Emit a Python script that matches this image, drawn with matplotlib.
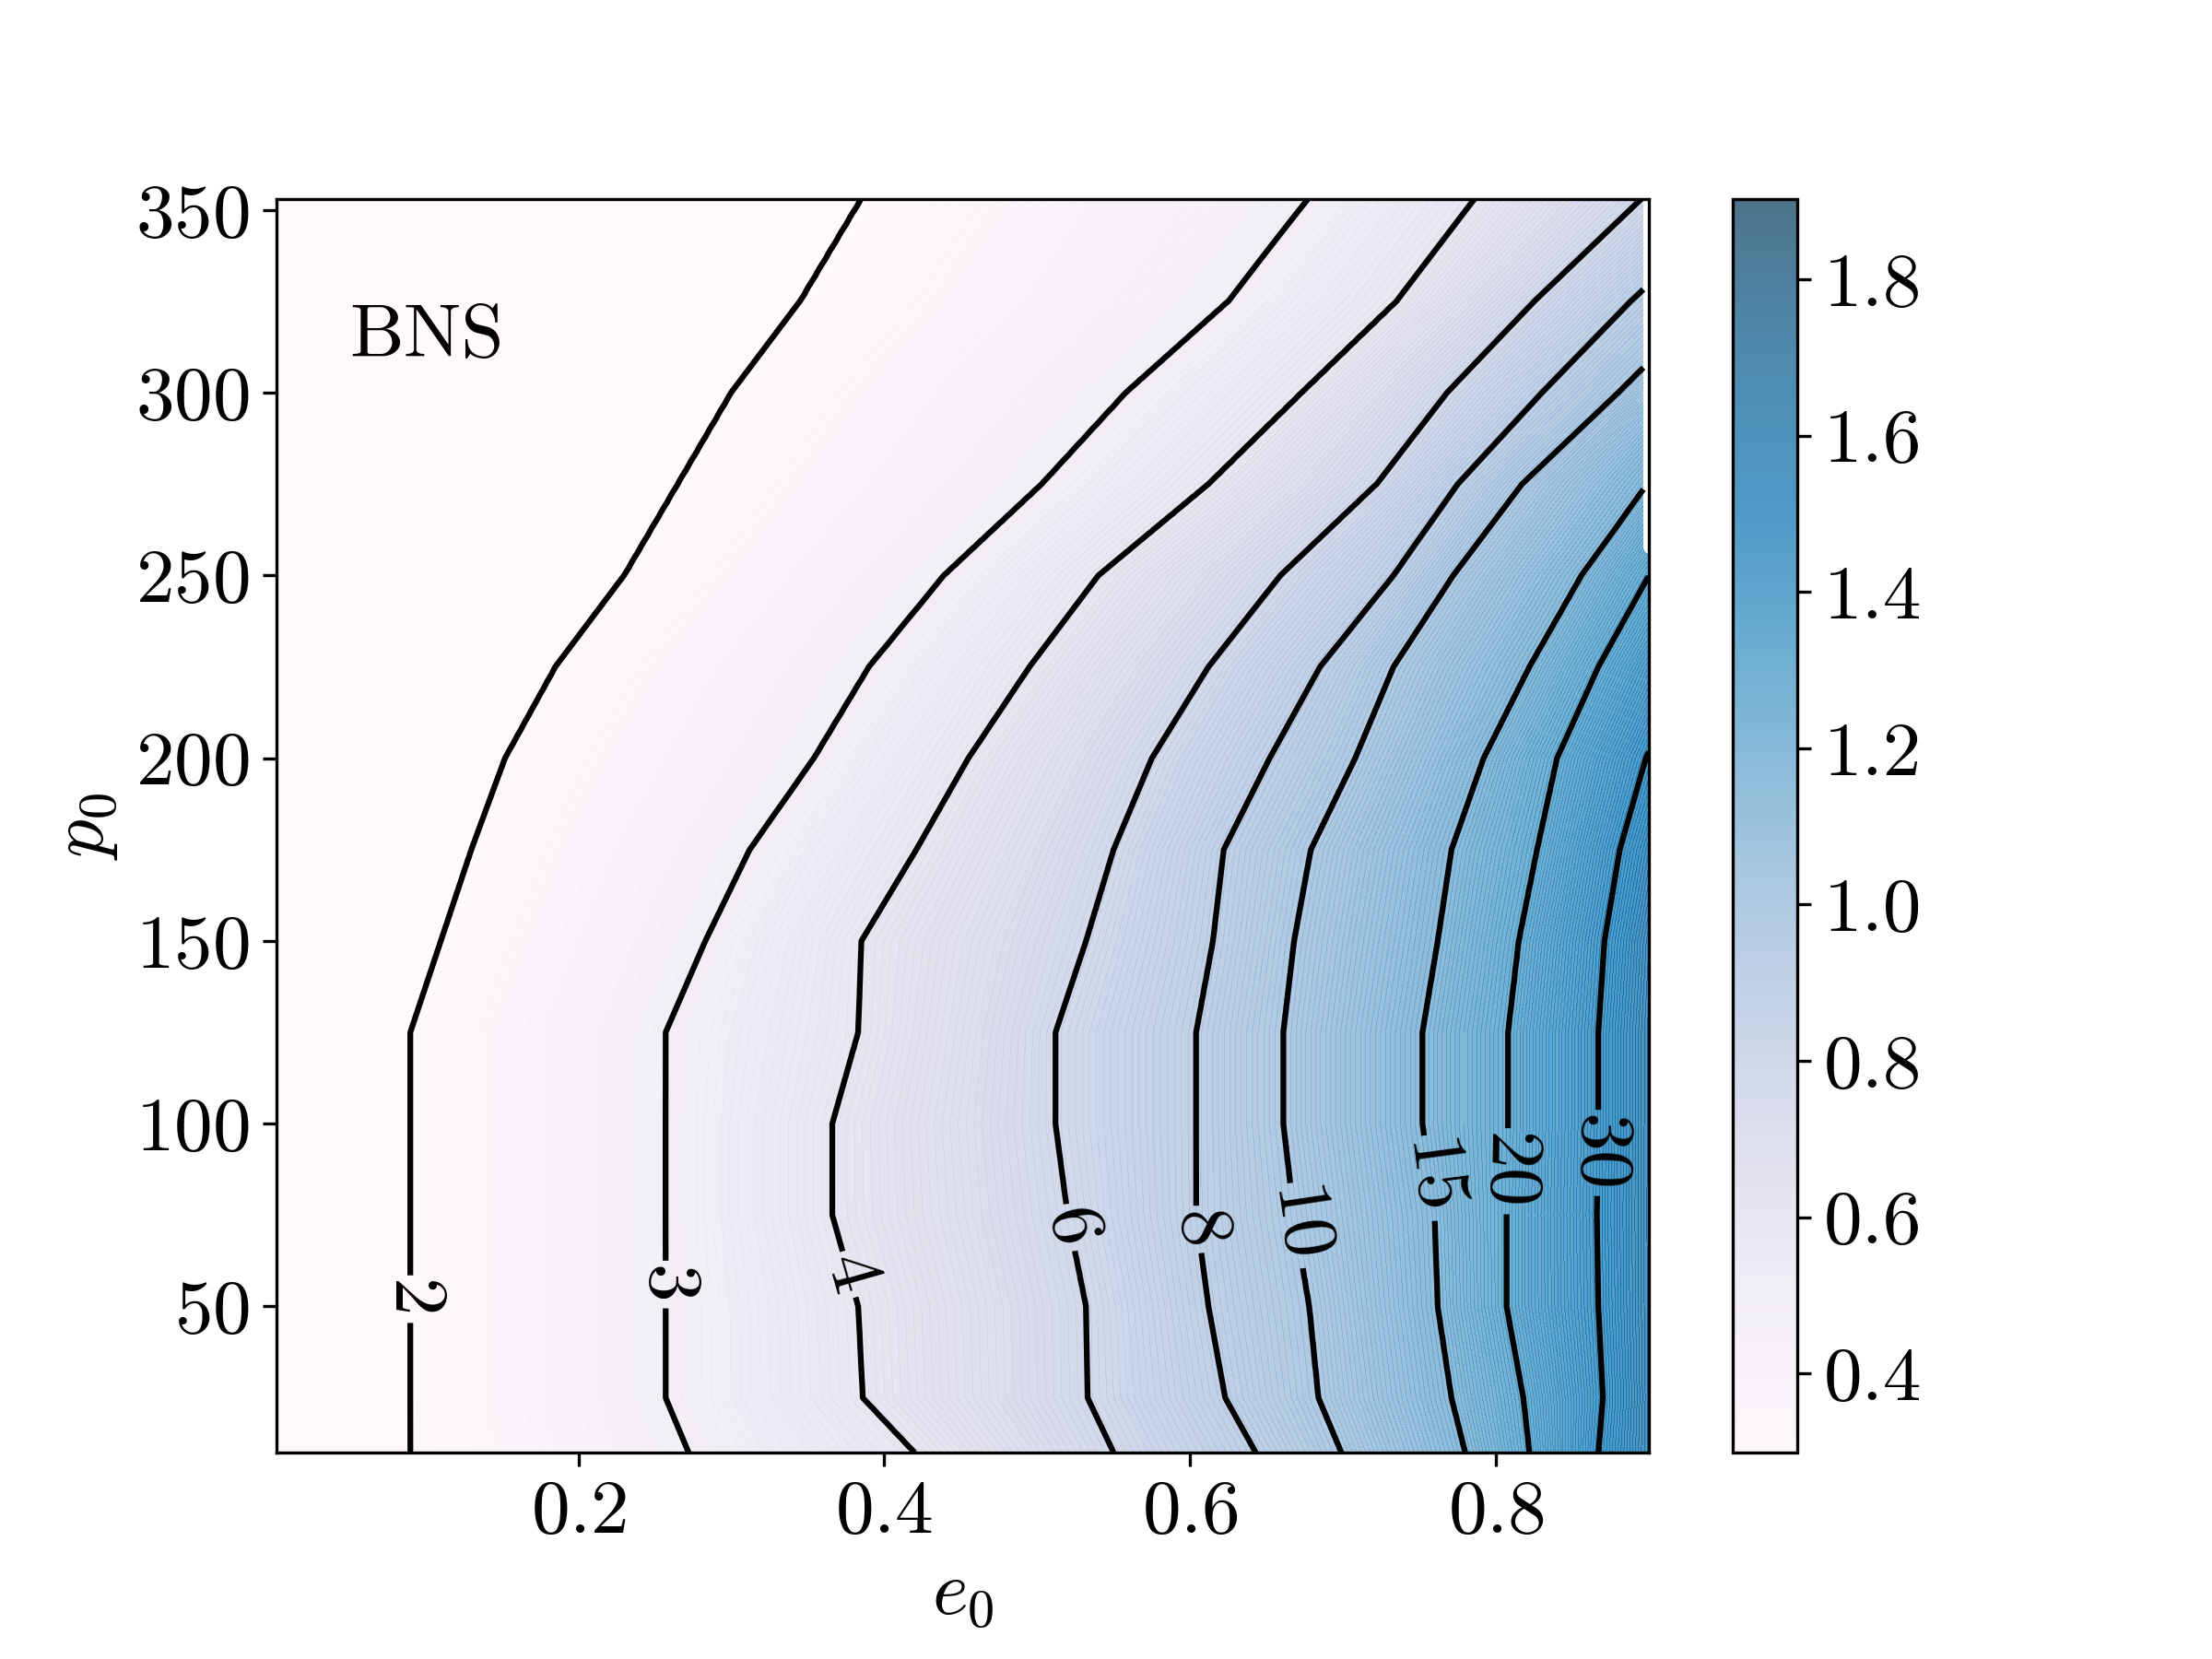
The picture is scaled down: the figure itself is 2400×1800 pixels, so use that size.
import numpy as np
import matplotlib
matplotlib.use("Agg")
import matplotlib.pyplot as plt

plt.rcParams['font.family'] = 'serif'
plt.rcParams['font.serif'] = ['cmr10']
plt.rcParams['mathtext.fontset'] = 'cm'
plt.rcParams['axes.formatter.use_mathtext'] = True
plt.rcParams['font.size'] = 20

# rows of the data table (p0) and e0 range
p0_rows = [10, 25, 50, 75, 100, 125, 150, 175, 200, 225, 250, 275, 300, 325, 353]
e0_min, e0_max = 0.0025, 0.9

# e0 position where each contour level is crossed, per p0 row
levels = [2, 3, 4, 6, 8, 10, 15, 20, 30]
cross_2 = [0.090, 0.090, 0.090, 0.090, 0.090, 0.090, 0.110, 0.130, 0.152, 0.185, 0.230, 0.265, 0.300, 0.345, 0.385]
cross_3 = [0.272, 0.257, 0.257, 0.257, 0.257, 0.257, 0.283, 0.312, 0.354, 0.390, 0.439, 0.503, 0.558, 0.625, 0.677]
cross_4 = [0.420, 0.386, 0.383, 0.366, 0.366, 0.383, 0.385, 0.421, 0.455, 0.495, 0.540, 0.612, 0.673, 0.735, 0.786]
cross_6 = [0.550, 0.533, 0.532, 0.520, 0.512, 0.512, 0.532, 0.550, 0.575, 0.612, 0.659, 0.722, 0.768, 0.825, 0.895]
cross_8 = [0.643, 0.623, 0.612, 0.604, 0.604, 0.604, 0.615, 0.622, 0.652, 0.685, 0.733, 0.775, 0.830, 0.888, 0.960]
cross_10 = [0.699, 0.684, 0.678, 0.668, 0.661, 0.661, 0.668, 0.679, 0.708, 0.733, 0.772, 0.817, 0.880, 0.940, 0.990]
cross_15 = [0.780, 0.771, 0.762, 0.760, 0.752, 0.752, 0.762, 0.771, 0.792, 0.822, 0.856, 0.899, 0.945, 0.985, 1.020]
cross_20 = [0.822, 0.818, 0.807, 0.807, 0.808, 0.808, 0.815, 0.827, 0.840, 0.867, 0.900, 0.940, 0.980, 1.020, 1.060]
cross_30 = [0.867, 0.870, 0.867, 0.866, 0.867, 0.867, 0.871, 0.881, 0.898, 0.925, 0.960, 1.000, 1.040, 1.080, 1.120]
cross_40 = [0.905, 0.905, 0.905, 0.905, 0.905, 0.905, 0.908, 0.920, 0.940, 0.970, 1.000, 1.040, 1.080, 1.120, 1.160]
value_at_e0_zero = 1.6

# region at the right edge without data (upper part)
gap_e0, gap_p0 = 0.8968, 256

crossings = [cross_2, cross_3, cross_4, cross_6, cross_8, cross_10, cross_15, cross_20, cross_30, cross_40]
knot_vals = np.log10([2, 3, 4, 6, 8, 10, 15, 20, 30, 40])

# rendering grid: contour crossings run straight between table rows
e0_grid = np.linspace(e0_min, e0_max, 500)
p0_grid = np.linspace(p0_rows[0], p0_rows[-1], 344)
cross_grid = [np.interp(p0_grid, p0_rows, c) for c in crossings]
logZ = np.empty((len(p0_grid), len(e0_grid)))
for i in range(len(p0_grid)):
    xs = [0.0] + [c[i] for c in cross_grid]
    ys = [np.log10(value_at_e0_zero)] + list(knot_vals)
    logZ[i] = np.interp(e0_grid, xs, ys)
EE, PP = np.meshgrid(e0_grid, p0_grid)
gap = (EE > gap_e0) & (PP > gap_p0)
logZ = np.ma.masked_where(gap, logZ)
Z = 10 ** logZ

# colour scale limits of the colour bar
cmin, cmax = 0.2985, 1.903

# label positions (e0, p0)
label_pos = [(0.090, 52), (0.257, 56), (0.37, 58), (0.515, 71), (0.604, 71),
             (0.668, 72), (0.755, 85), (0.807, 87), (0.867, 92)]

fig = plt.figure(figsize=(8, 6), dpi=300)
ax = fig.add_axes([0.125, 0.1244, 0.6204, 0.7556])
cax = fig.add_axes([0.7835, 0.1244, 0.029, 0.7556])

fill_levels = np.linspace(cmin, cmax, 256)
cf = ax.contourf(e0_grid, p0_grid, np.ma.clip(logZ, cmin + 1e-4, None), levels=fill_levels,
                 cmap='PuBu', alpha=0.7)
cs = ax.contour(e0_grid, p0_grid, Z, levels=levels, colors='k', linewidths=1.5)
labels = ax.clabel(cs, fmt='%d', fontsize=20, manual=label_pos, inline=True)
for t in labels:
    r = t.get_rotation() % 360
    if 30 < r < 150:
        t.set_rotation(r + 180)

ax.set_xlim(e0_min, e0_max)
ax.set_ylim(10, 353)
ax.set_xticks([0.2, 0.4, 0.6, 0.8])
ax.set_yticks([50, 100, 150, 200, 250, 300, 350])
ax.set_xlabel(r'$e_0$')
ax.set_ylabel(r'$p_0$')
ax.text(0.05, 310, 'BNS', fontsize=20, ha='left', va='baseline')

cb = fig.colorbar(cf, cax=cax, ticks=[0.4, 0.6, 0.8, 1.0, 1.2, 1.4, 1.6, 1.8])
cb.ax.set_yticklabels(['0.4', '0.6', '0.8', '1.0', '1.2', '1.4', '1.6', '1.8'])

fig.savefig('out.png', dpi=300)
